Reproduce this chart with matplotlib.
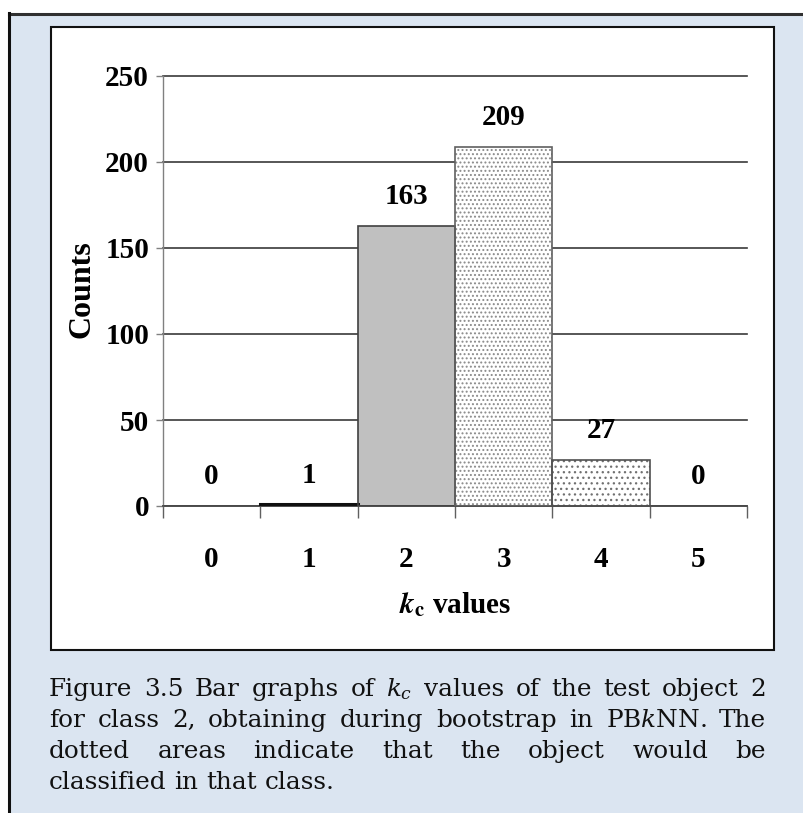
import matplotlib
matplotlib.use("Agg")
import matplotlib.pyplot as plt
from matplotlib.patches import Rectangle
from matplotlib.lines import Line2D

# ---------------- data ----------------
categories = ["0", "1", "2", "3", "4", "5"]
counts = [0, 1, 163, 209, 27, 0]
yticks = [0, 50, 100, 150, 200, 250]
ylabel = "Counts"
xlabel = r"$\boldsymbol{k}_{\mathbf{c}}$ values"
caption_lines = [
    ["Figure", "3.5", "Bar", "graphs", "of", "$k_c$", "values", "of", "the", "test", "object", "2"],
    ["for", "class", "2,", "obtaining", "during", "bootstrap", "in", "PB$k$NN.", "The"],
    ["dotted", "areas", "indicate", "that", "the", "object", "would", "be"],
    ["classified", "in", "that", "class."],
]

# ---------------- styles ----------------
W, H = 804, 813
face = ["white", "white", "#c0c0c0", "white", "white", "white"]
hatches = [None, None, None, "....", "...", None]
dotcol = ["white", "white", "#c0c0c0", "#8a8a8a", "#707070", "white"]
edgecol = ["#303030", "#101010", "#404040", "#606060", "#505050", "#303030"]
edgelw = [1.0, 2.2, 1.2, 1.2, 1.2, 1.0]
BG = "#dbe5f1"

plt.rcParams["hatch.linewidth"] = 0.9
tick_font = dict(family="Liberation Serif", weight="bold", size=21)

fig = plt.figure(figsize=(W / 100, H / 100), dpi=100)
fig.patch.set_facecolor("white")

def fx(px):
    return px / W

def fy(py):
    return 1 - py / H

# blue panel with dark top/left borders
fig.patches.append(Rectangle((fx(8), 0), 1 - fx(8), fy(13), transform=fig.transFigure,
                             facecolor=BG, edgecolor="none", zorder=0))
fig.lines.append(Line2D([fx(9), 1], [fy(14), fy(14)], transform=fig.transFigure,
                        color="#303030", lw=2.2, zorder=1))
fig.lines.append(Line2D([fx(9.5), fx(9.5)], [0, fy(13)], transform=fig.transFigure,
                        color="#101010", lw=2.2, zorder=1))
# white chart box
fig.patches.append(Rectangle((fx(51), fy(650)), fx(774) - fx(51), fy(27) - fy(650),
                             transform=fig.transFigure, facecolor="white",
                             edgecolor="#111111", lw=1.5, zorder=1))

# ---------------- axes ----------------
ax = fig.add_axes([fx(163), fy(506), fx(747) - fx(163), fy(76) - fy(506)])
ax.set_facecolor("none")
ax.set_zorder(2)
x = list(range(len(categories)))
ax.bar(x, counts, width=1.0, color=face, edgecolor="none", lw=0, zorder=2)
for i in range(len(x)):
    if hatches[i]:
        ax.bar([x[i]], [counts[i]], width=1.0, color=face[i], hatch=hatches[i],
               edgecolor=dotcol[i], lw=0, zorder=2)
ax.bar(x, counts, width=1.0, fill=False, edgecolor=edgecol, linewidth=edgelw, zorder=3)

for xi, v in zip(x, counts):
    ax.annotate(str(v), (xi, v), xytext=(0, 21), textcoords="offset points",
                ha="center", va="center", **tick_font, zorder=4)

ax.set_xlim(-0.5, len(categories) - 0.5)
ax.set_ylim(0, 250)
ax.set_yticks(yticks)
ax.set_yticklabels([str(t) for t in yticks], **tick_font)
ax.yaxis.grid(True, color="#3a3a3a", lw=1.2)
for gl in ax.get_ygridlines():
    gl.set_clip_on(False)
ax.set_axisbelow(True)
ax.tick_params(axis="y", length=5, width=1, color="#808080", pad=5)

ax.set_xticks([i - 0.5 for i in range(len(categories) + 1)])
ax.set_xticklabels([])
ax.set_xticks(x, minor=True)
ax.set_xticklabels(categories, minor=True, **tick_font)
ax.tick_params(axis="x", which="major", length=8.5, width=1, color="#606060")
ax.tick_params(axis="x", which="minor", length=0, pad=28.5)

for s in ["top", "right"]:
    ax.spines[s].set_visible(False)
ax.spines["left"].set_color("#808080")
ax.spines["left"].set_linewidth(1.0)
ax.spines["bottom"].set_color("#505050")
ax.spines["bottom"].set_linewidth(1.3)

ax.set_ylabel(ylabel, family="Liberation Serif", weight="bold", size=23, va="center")
ax.yaxis.set_label_coords((82 - 163) / 584, (506 - 289) / 430)
ax.set_xlabel(xlabel, family="Liberation Serif", weight="bold", size=21, va="center",
              math_fontfamily="stix")
ax.xaxis.set_label_coords(0.5, (506 - 605) / 430)

# ---------------- caption (justified) ----------------
cap_font = dict(family="DejaVu Serif", size=17.8, math_fontfamily="dejavuserif")
renderer = fig.canvas.get_renderer()
x0, x1 = 49, 766
baselines = [696, 727, 758, 789]
t_ab_sp = fig.text(0, 0, "a b", **cap_font)
t_ab = fig.text(0, 0, "ab", **cap_font)
sp_w = t_ab_sp.get_window_extent(renderer).width - t_ab.get_window_extent(renderer).width
t_ab_sp.remove()
t_ab.remove()
for li, words in enumerate(caption_lines):
    texts = [fig.text(0, 0, w, ha="left", va="baseline", color="#111111", **cap_font)
             for w in words]
    widths = [t.get_window_extent(renderer).width for t in texts]
    last = li == len(caption_lines) - 1
    gap = sp_w if last else (x1 - x0 - sum(widths)) / (len(words) - 1)
    xp = x0
    for t, w in zip(texts, widths):
        t.set_position((fx(xp), fy(baselines[li])))
        xp += w + gap

fig.savefig("out.png", dpi=100, facecolor=fig.get_facecolor())
